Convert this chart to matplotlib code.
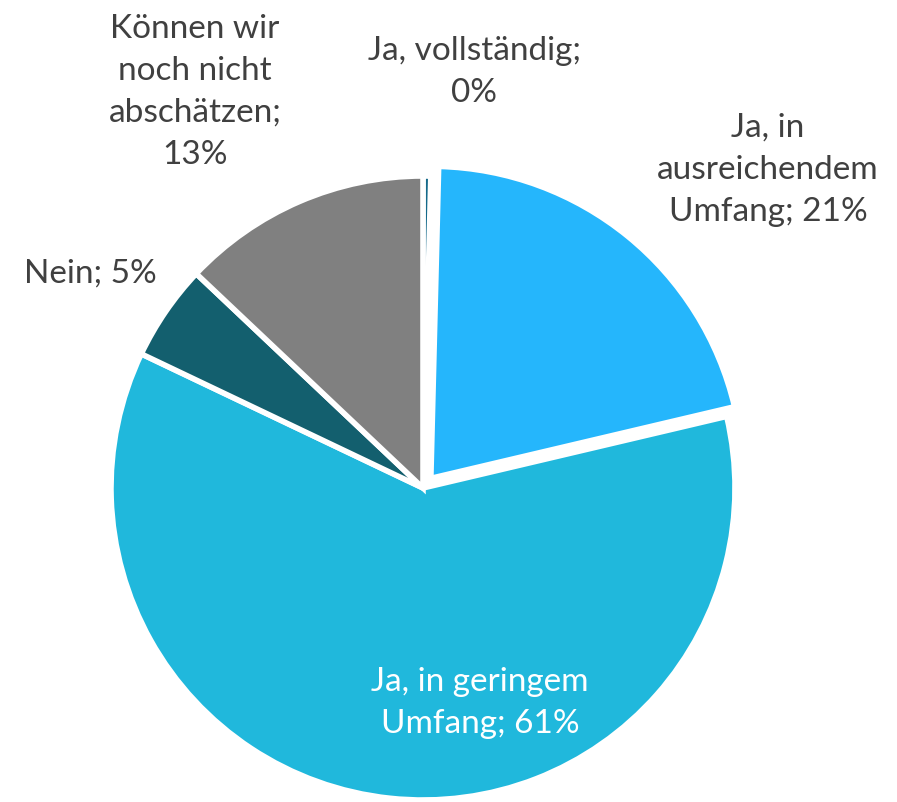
import matplotlib.pyplot as plt

labels = ['Ja, vollständig;\n0%', 'Ja, in\nausreichendem\nUmfang; 21%',
          'Ja, in geringem\nUmfang; 61%', 'Nein; 5%',
          'Können wir\nnoch nicht\nabschätzen;\n13%']
values = [0.4, 21, 61, 5, 13]
colors = ['#156A8A', '#25B6FC', '#20B8DC', '#135F6E', '#808080']
explode = [0, 0.04, 0, 0, 0]

# label centres in pixels (x, y from top)
label_pos = [(474, 72), (768, 170), (480, 703), (90, 274), (195, 92)]
label_col = ['#404040', '#404040', 'white', '#404040', '#404040']

plt.rcParams['font.family'] = ['Lato', 'DejaVu Sans']

W, H = 897, 802
fig = plt.figure(figsize=(W / 100, H / 100), dpi=100)
ax = fig.add_axes([0, 0, 1, 1])

cx, cy, r = 423, 488, 312
ax.pie(values, colors=colors, explode=explode, startangle=90, counterclock=False,
       radius=1, center=(0, 0),
       wedgeprops=dict(edgecolor='white', linewidth=4))
ax.set_xlim(-cx / r, (W - cx) / r)
ax.set_ylim(-(H - cy) / r, cy / r)
ax.set_aspect('equal')
ax.axis('off')

for lab, (px, py), c in zip(labels, label_pos, label_col):
    fig.text(px / W, 1 - py / H, lab, ha='center', va='center', fontsize=24,
             color=c, linespacing=1.5)

fig.savefig('out.png', dpi=100)
